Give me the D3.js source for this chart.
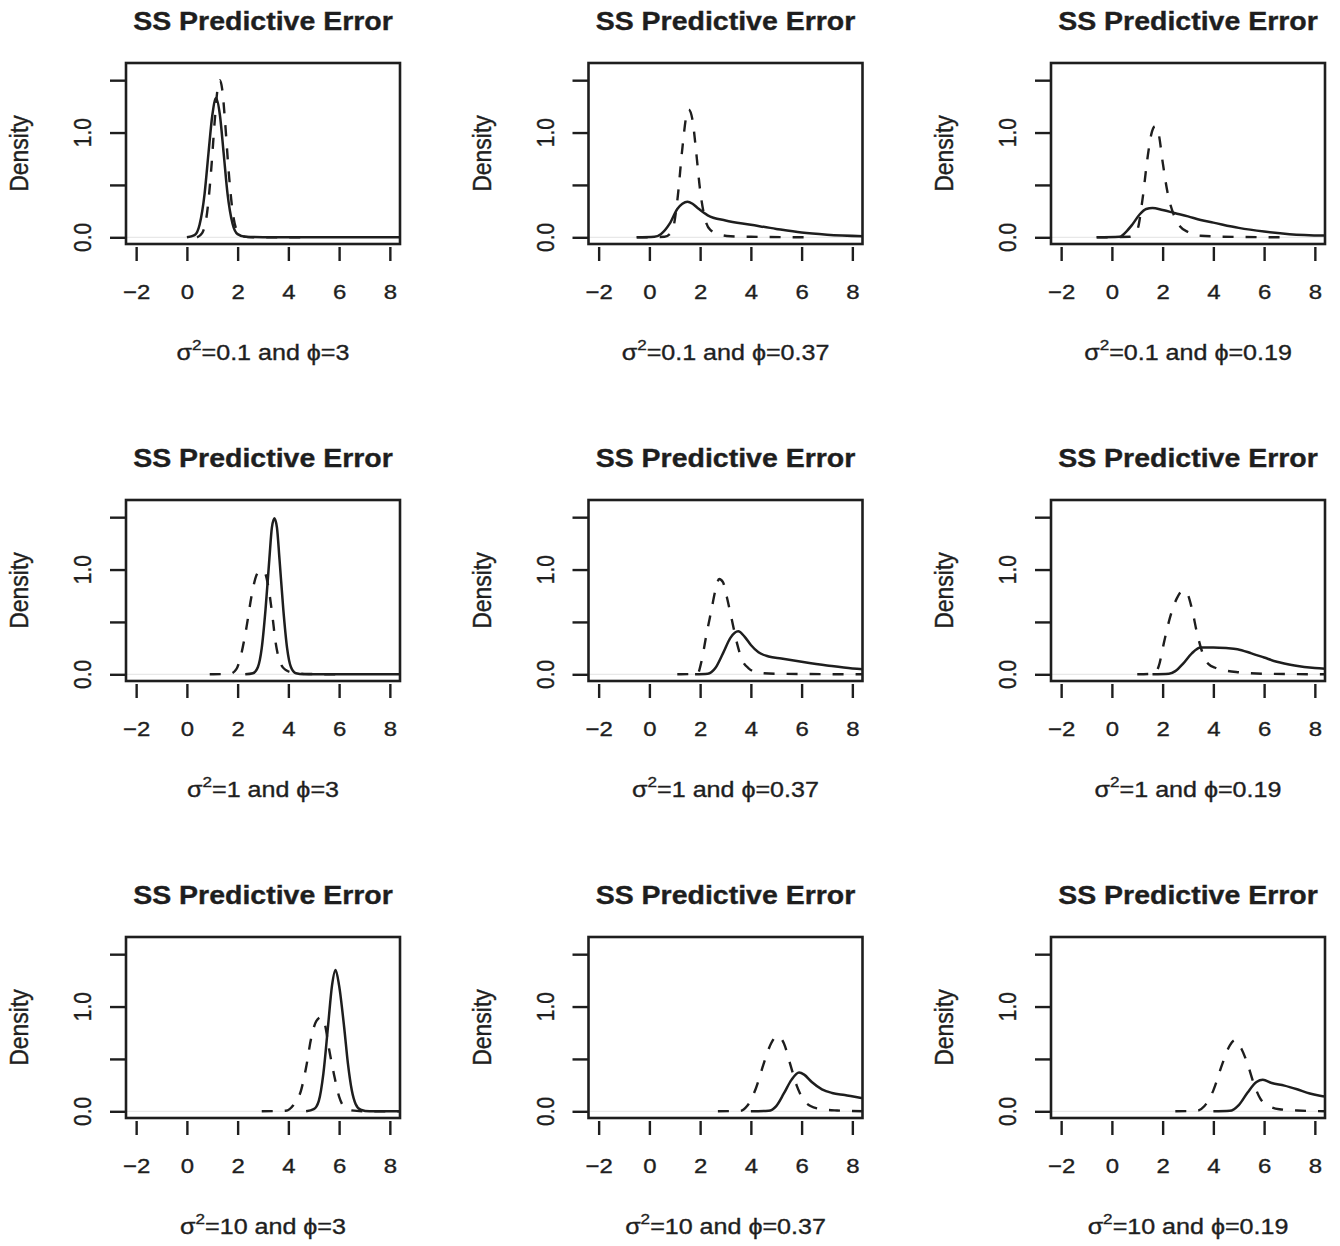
<!DOCTYPE html>
<html>
<head>
<meta charset="utf-8">
<script src="https://cdn.jsdelivr.net/npm/d3@7"></script>
<style>
  body { margin: 0; background: #fff; }
  svg { display: block; font-family: "Liberation Sans", Arial, Helvetica, sans-serif; }
  .soft { stroke: #222; stroke-width: 0.35px; }
</style>
</head>
<body>
<svg id="chart" width="1340" height="1246"></svg>
<script>
"use strict";

// axis ticks shared by every panel
const xTicks = [-2, 0, 2, 4, 6, 8];
const yTicks = [0, 0.5, 1.0, 1.5];
const yTickLabels = ["0.0", "", "1.0", ""];

// panel rows (sigma^2) and columns (phi)
const sigma2Values = ["0.1", "1", "10"];
const phiValues = ["3", "0.37", "0.19"];

// density curves, [x, density]
const solid_s01_p3 = [[0,0],[0.3,0.02],[0.5,0.12],[0.7,0.42],[0.85,0.8],[1.0,1.16],[1.15,1.33],[1.3,1.17],[1.45,0.8],[1.6,0.42],[1.8,0.13],[2.0,0.03],[2.3,0.005],[3,0.001],[5,0],[8.6,0]];
const dashed_s01_p3 = [[0.4,0],[0.6,0.04],[0.8,0.24],[0.95,0.62],[1.1,1.12],[1.2,1.4],[1.3,1.5],[1.4,1.4],[1.5,1.12],[1.65,0.62],[1.8,0.25],[2.0,0.05],[2.2,0.01],[2.6,0],[4.6,0]];

const solid_s01_p037 = [[-0.5,0],[0.2,0.005],[0.45,0.03],[0.8,0.13],[1.1,0.27],[1.3,0.32],[1.5,0.34],[1.7,0.32],[1.9,0.28],[2.3,0.21],[3.0,0.16],[4.0,0.12],[5.0,0.08],[6.0,0.045],[7.0,0.025],[8.6,0.01]];
const dashed_s01_p037 = [[-0.5,0],[0.6,0.005],[0.9,0.06],[1.1,0.35],[1.3,0.85],[1.45,1.15],[1.55,1.22],[1.7,1.12],[1.85,0.8],[2.0,0.45],[2.2,0.17],[2.4,0.07],[2.8,0.025],[3.2,0.01],[4,0.005],[6.55,0]];

const solid_s01_p019 = [[-0.6,0],[0.3,0.005],[0.55,0.05],[0.8,0.12],[1.1,0.22],[1.35,0.27],[1.6,0.28],[2.0,0.26],[2.5,0.23],[3.0,0.2],[3.5,0.165],[4.0,0.14],[5.0,0.09],[6.0,0.055],[7.0,0.03],[8.6,0.015]];
const dashed_s01_p019 = [[-0.6,0],[0.7,0.005],[1.0,0.07],[1.2,0.35],[1.4,0.75],[1.55,0.98],[1.7,1.06],[1.85,0.98],[2.0,0.72],[2.2,0.42],[2.4,0.24],[2.7,0.1],[3.0,0.05],[3.5,0.015],[5,0.003],[7.0,0]];

const solid_s1_p3 = [[2.3,0],[2.6,0.01],[2.8,0.07],[2.95,0.25],[3.1,0.62],[3.25,1.1],[3.35,1.4],[3.45,1.49],[3.55,1.4],[3.65,1.1],[3.8,0.62],[3.95,0.25],[4.1,0.07],[4.3,0.01],[4.6,0],[8.6,0]];
const dashed_s1_p3 = [[0.9,0],[1.7,0.005],[1.95,0.05],[2.15,0.2],[2.35,0.45],[2.55,0.75],[2.75,0.95],[2.9,0.99],[3.05,0.98],[3.2,0.85],[3.35,0.6],[3.5,0.3],[3.7,0.1],[3.9,0.04],[4.2,0.015],[4.8,0.003],[6,0]];

const solid_s1_p037 = [[1.8,0],[2.3,0.005],[2.6,0.06],[2.9,0.2],[3.2,0.35],[3.5,0.41],[3.75,0.36],[4.0,0.28],[4.3,0.21],[4.7,0.17],[5.2,0.15],[6.0,0.12],[7.0,0.085],[8.0,0.055],[8.6,0.045]];
const dashed_s1_p037 = [[1.1,0],[1.9,0.005],[2.05,0.12],[2.25,0.38],[2.45,0.62],[2.6,0.8],[2.75,0.91],[2.9,0.88],[3.05,0.74],[3.25,0.52],[3.45,0.3],[3.65,0.14],[3.9,0.06],[4.3,0.015],[5,0.005],[8.6,0]];

const solid_s1_p019 = [[1.6,0],[2.25,0.005],[2.5,0.03],[2.8,0.1],[3.15,0.2],[3.5,0.255],[4.0,0.255],[4.5,0.25],[4.95,0.24],[5.5,0.2],[6.0,0.16],[6.5,0.12],[7.2,0.085],[8.0,0.06],[8.6,0.05]];
const dashed_s1_p019 = [[1.0,0],[1.65,0.005],[1.85,0.08],[2.05,0.3],[2.3,0.55],[2.55,0.72],[2.8,0.8],[2.95,0.78],[3.15,0.63],[3.35,0.4],[3.55,0.22],[3.8,0.1],[4.1,0.06],[4.5,0.035],[5.0,0.02],[6.0,0.005],[8.6,0]];

const solid_s10_p3 = [[4.7,0],[5.0,0.02],[5.2,0.1],[5.38,0.36],[5.57,0.83],[5.72,1.2],[5.86,1.35],[6.0,1.2],[6.2,0.8],[6.35,0.45],[6.5,0.2],[6.65,0.07],[6.85,0.015],[7.2,0],[8.6,0]];
const dashed_s10_p3 = [[2.95,0],[3.9,0.005],[4.2,0.06],[4.5,0.2],[4.7,0.42],[4.9,0.7],[5.1,0.86],[5.3,0.9],[5.45,0.82],[5.6,0.6],[5.8,0.35],[6.0,0.14],[6.2,0.04],[6.45,0.01],[7,0],[8.6,0]];

const solid_s10_p037 = [[4.0,0],[4.7,0.005],[5.0,0.05],[5.3,0.17],[5.6,0.3],[5.9,0.37],[6.1,0.35],[6.4,0.28],[6.8,0.21],[7.2,0.175],[7.7,0.155],[8.3,0.13],[8.6,0.12]];
const dashed_s10_p037 = [[2.7,0],[3.6,0.005],[3.85,0.05],[4.2,0.22],[4.5,0.45],[4.8,0.65],[5.05,0.72],[5.3,0.65],[5.55,0.45],[5.8,0.25],[6.05,0.12],[6.35,0.05],[6.8,0.02],[7.4,0.008],[8.6,0]];

const solid_s10_p019 = [[4.0,0],[4.65,0.005],[5.0,0.06],[5.35,0.18],[5.7,0.28],[5.95,0.3],[6.3,0.27],[6.8,0.245],[7.3,0.21],[7.8,0.17],[8.4,0.14],[8.6,0.13]];
const dashed_s10_p019 = [[2.5,0],[3.35,0.005],[3.65,0.05],[4.0,0.2],[4.35,0.45],[4.65,0.63],[4.85,0.68],[5.1,0.6],[5.35,0.45],[5.6,0.26],[5.85,0.12],[6.2,0.05],[6.6,0.02],[7.3,0.008],[8.6,0]];

const solidCurves = [
  [solid_s01_p3, solid_s01_p037, solid_s01_p019],
  [solid_s1_p3, solid_s1_p037, solid_s1_p019],
  [solid_s10_p3, solid_s10_p037, solid_s10_p019]
];
const dashedCurves = [
  [dashed_s01_p3, dashed_s01_p037, dashed_s01_p019],
  [dashed_s1_p3, dashed_s1_p037, dashed_s1_p019],
  [dashed_s10_p3, dashed_s10_p037, dashed_s10_p019]
];

// layout
const boxLeft0 = 126, colStep = 462.5;
const boxTop0 = 63, rowStep = 437;
const boxW = 274, boxH = 181;
const ink = "#1e1e1e";
const stretch = 1.14;   // the figure is a little wider than tall

const svg = d3.select("#chart");

const xScale = d3.scaleLinear().domain([-2.4, 8.4]).range([0, boxW]);
const yScale = d3.scaleLinear().domain([-0.064, 1.664]).range([boxH, 0]);

const line = d3.line()
    .x(d => xScale(d[0]))
    .y(d => yScale(d[1]))
    .curve(d3.curveMonotoneX);

svg.append("defs").append("clipPath")
    .attr("id", "plotClip")
  .append("rect")
    .attr("x", 0).attr("y", 0)
    .attr("width", boxW).attr("height", boxH);

/* Draw one of the nine panels */
function render_panel(row, col) {
  let left = boxLeft0 + col * colStep,
      top = boxTop0 + row * rowStep;

  let g = svg.append("g")
      .attr("class", "panel")
      .attr("transform", `translate(${left},${top})`);

  // title
  g.append("text")
      .attr("class", "soft")
      .attr("transform", `translate(${boxW / 2},-33) scale(${stretch},1)`)
      .attr("text-anchor", "middle")
      .style("font-size", "25px")
      .style("font-weight", "bold")
      .attr("fill", ink)
      .text("SS Predictive Error");

  // faint zero line
  g.append("line")
      .attr("x1", 0).attr("x2", boxW)
      .attr("y1", yScale(0)).attr("y2", yScale(0))
      .attr("stroke", "#e2e2e2")
      .attr("stroke-width", 1);

  // curves
  let plot = g.append("g").attr("clip-path", "url(#plotClip)");

  plot.append("path")
      .datum(dashedCurves[row][col])
      .attr("d", line)
      .attr("fill", "none")
      .attr("stroke", ink)
      .attr("stroke-width", 2.4)
      .attr("stroke-dasharray", "11,12");

  plot.append("path")
      .datum(solidCurves[row][col])
      .attr("d", line)
      .attr("fill", "none")
      .attr("stroke", ink)
      .attr("stroke-width", 2.5);

  // box
  g.append("rect")
      .attr("x", 0).attr("y", 0)
      .attr("width", boxW).attr("height", boxH)
      .attr("fill", "none")
      .attr("stroke", ink)
      .attr("stroke-width", 2.6);

  // x axis
  let xAxis = g.append("g")
      .attr("transform", `translate(0,${boxH + 3})`)
      .call(d3.axisBottom(xScale).tickValues(xTicks).tickSize(14).tickSizeOuter(0));
  xAxis.select(".domain").remove();
  xAxis.selectAll(".tick line").attr("stroke", ink).attr("stroke-width", 2.4);
  xAxis.selectAll(".tick text")
      .attr("class", "soft")
      .attr("y", 52).attr("dy", null)
      .attr("transform", `scale(${stretch},1)`)
      .attr("fill", ink)
      .style("font-size", "21px")
      .style("font-family", "Liberation Sans, Arial, sans-serif");

  // y axis
  let yAxis = g.append("g")
      .call(d3.axisLeft(yScale).tickValues(yTicks).tickSize(16).tickSizeOuter(0).tickFormat(""));
  yAxis.select(".domain").remove();
  yAxis.selectAll(".tick line").attr("stroke", ink).attr("stroke-width", 2.4);

  g.selectAll(".ylab")
      .data(yTicks.filter((d, i) => yTickLabels[i] !== ""))
      .enter().append("text")
      .attr("class", "ylab soft")
      .attr("transform", d => `translate(-35,${yScale(d)}) scale(${stretch},1) rotate(-90)`)
      .attr("text-anchor", "middle")
      .attr("fill", ink)
      .style("font-size", "21px")
      .text(d => yTickLabels[yTicks.indexOf(d)]);

  // axis titles
  g.append("text")
      .attr("class", "soft")
      .attr("transform", `translate(-98,${boxH / 2}) scale(${stretch},1) rotate(-90)`)
      .attr("text-anchor", "middle")
      .attr("fill", ink)
      .style("font-size", "23px")
      .text("Density");

  let sub = g.append("text")
      .attr("class", "soft")
      .attr("transform", `translate(${boxW / 2},297) scale(${stretch},1)`)
      .attr("text-anchor", "middle")
      .attr("fill", ink)
      .style("font-size", "22px");
  sub.append("tspan").text("σ");
  sub.append("tspan").attr("dy", -10).style("font-size", "15px").text("2");
  sub.append("tspan").attr("dy", 10).text(`=${sigma2Values[row]} and ϕ=${phiValues[col]}`);
}

for (let r = 0; r < sigma2Values.length; r++) {
  for (let c = 0; c < phiValues.length; c++) {
    render_panel(r, c);
  }
}
</script>
</body>
</html>
